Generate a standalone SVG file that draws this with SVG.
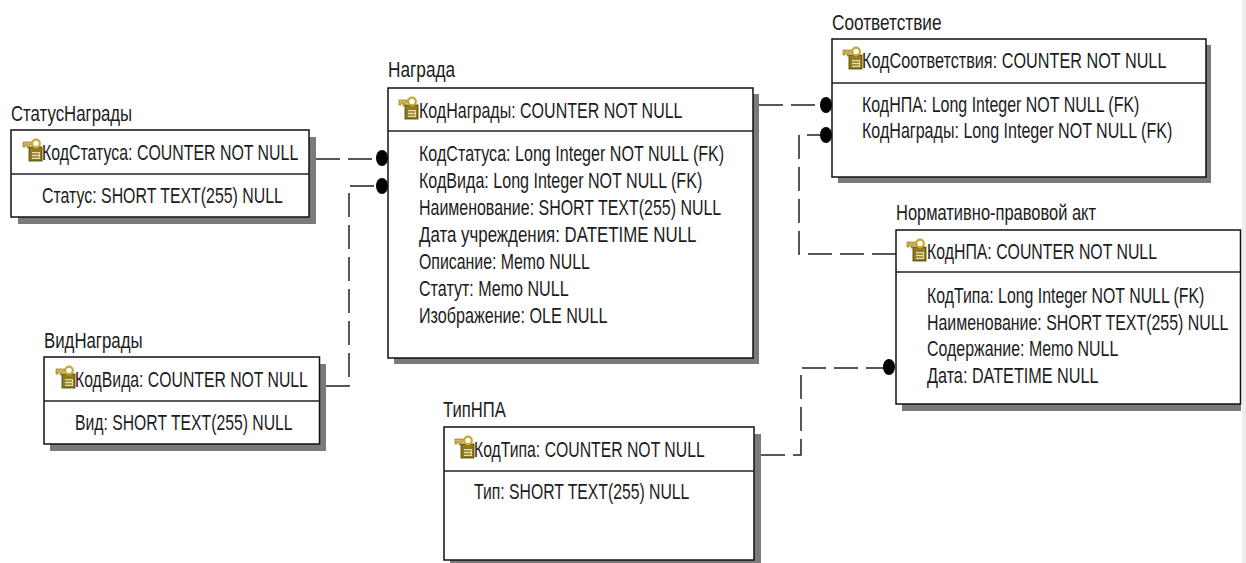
<svg xmlns="http://www.w3.org/2000/svg" width="1246" height="563" viewBox="0 0 1246 563">
<style>
text{font-family:"Liberation Sans",Arial,sans-serif;font-size:22px;fill:#1c1c1c}
.box{fill:#fff;stroke:#111;stroke-width:1.5}
.sh{fill:#7a7a7a}
.div{stroke:#222;stroke-width:1.5}
.c{fill:none;stroke:#222;stroke-width:1.5;stroke-dasharray:24 8}
</style>
<defs>
<g id="key">
<rect x="6" y="8" width="13" height="14" fill="#8f7a1c" stroke="#4a3d0c" stroke-width=".8"/>
<rect x="9" y="13" width="8" height="7" fill="#e8dca0"/>
<path d="M9 15h7M9 18h7" stroke="#5a4c12" stroke-width="1"/>
<path d="M0 3h9v3H6v3H4V6H2v2H0z" fill="#d9b84a" stroke="#7a6418" stroke-width=".6"/>
<circle cx="13" cy="4.500" r="3.800" fill="none" stroke="#c9a832" stroke-width="2.200"/>
</g>
</defs>
<rect width="1246" height="563" fill="#fff"/>
<rect x="1242" y="0" width="4" height="563" fill="#ededed"/>
<g id="connectors">
<path class="c" d="M316 159H382"/>
<path class="c" d="M326 386H349V186H382"/>
<path class="c" d="M759 105H826"/>
<path class="c" d="M896 254H799V135H826"/>
<path class="c" d="M761 455H801V368H889"/>
<ellipse cx="382" cy="158" rx="6" ry="8"/>
<ellipse cx="382" cy="186" rx="6" ry="8"/>
<ellipse cx="826" cy="105" rx="6" ry="8"/>
<ellipse cx="826" cy="135" rx="6" ry="8"/>
<ellipse cx="889" cy="367" rx="6" ry="8"/>
</g>
<g id="status">
<text transform="matrix(.73 0 0 1 11 121)" textLength="166" lengthAdjust="spacingAndGlyphs">СтатусНаграды</text>
<rect class="sh" x="18" y="137" width="298" height="87"/>
<rect class="box" x="11" y="130" width="298" height="87"/>
<line class="div" x1="11" y1="174" x2="309" y2="174"/>
<use href="#key" x="23" y="139"/>
<text transform="matrix(.73 0 0 1 42 160)" textLength="351" lengthAdjust="spacingAndGlyphs">КодСтатуса: COUNTER NOT NULL</text>
<text transform="matrix(.73 0 0 1 42 203)" textLength="330" lengthAdjust="spacingAndGlyphs">Статус: SHORT TEXT(255) NULL</text>
</g>
<g id="vid">
<text transform="matrix(.73 0 0 1 44 348)" textLength="135" lengthAdjust="spacingAndGlyphs">ВидНаграды</text>
<rect class="sh" x="50" y="364" width="276" height="87"/>
<rect class="box" x="44" y="357" width="275.500" height="87"/>
<line class="div" x1="44" y1="401" x2="319.500" y2="401"/>
<use href="#key" x="56" y="366"/>
<text transform="matrix(.73 0 0 1 75 387)" textLength="319" lengthAdjust="spacingAndGlyphs">КодВида: COUNTER NOT NULL</text>
<text transform="matrix(.73 0 0 1 75 430)" textLength="298" lengthAdjust="spacingAndGlyphs">Вид: SHORT TEXT(255) NULL</text>
</g>
<g id="nagrada">
<text transform="matrix(.73 0 0 1 388 77)" textLength="92" lengthAdjust="spacingAndGlyphs">Награда</text>
<rect class="sh" x="394" y="94" width="365" height="270"/>
<rect class="box" x="388" y="88" width="365" height="270"/>
<line class="div" x1="388" y1="131" x2="753" y2="131"/>
<use href="#key" x="399" y="97"/>
<text transform="matrix(.73 0 0 1 419 118)" textLength="361" lengthAdjust="spacingAndGlyphs">КодНаграды: COUNTER NOT NULL</text>
<text transform="matrix(.73 0 0 1 419 161)" textLength="418" lengthAdjust="spacingAndGlyphs">КодСтатуса: Long Integer NOT NULL (FK)</text>
<text transform="matrix(.73 0 0 1 419 188)" textLength="388" lengthAdjust="spacingAndGlyphs">КодВида: Long Integer NOT NULL (FK)</text>
<text transform="matrix(.73 0 0 1 419 215)" textLength="414" lengthAdjust="spacingAndGlyphs">Наименование: SHORT TEXT(255) NULL</text>
<text transform="matrix(.73 0 0 1 419 242)" textLength="380" lengthAdjust="spacingAndGlyphs">Дата учреждения: DATETIME NULL</text>
<text transform="matrix(.73 0 0 1 419 269)" textLength="234" lengthAdjust="spacingAndGlyphs">Описание: Memo NULL</text>
<text transform="matrix(.73 0 0 1 419 296)" textLength="205" lengthAdjust="spacingAndGlyphs">Статут: Memo NULL</text>
<text transform="matrix(.73 0 0 1 419 323)" textLength="258" lengthAdjust="spacingAndGlyphs">Изображение: OLE NULL</text>
</g>
<g id="sootv">
<text transform="matrix(.73 0 0 1 832 30)" textLength="150" lengthAdjust="spacingAndGlyphs">Соответствие</text>
<rect class="sh" x="838" y="45" width="373" height="138"/>
<rect class="box" x="832" y="39" width="374" height="138"/>
<line class="div" x1="832" y1="83" x2="1206" y2="83"/>
<use href="#key" x="843" y="47"/>
<text transform="matrix(.73 0 0 1 862 68)" textLength="417" lengthAdjust="spacingAndGlyphs">КодСоответствия: COUNTER NOT NULL</text>
<text transform="matrix(.73 0 0 1 862 112)" textLength="380" lengthAdjust="spacingAndGlyphs">КодНПА: Long Integer NOT NULL (FK)</text>
<text transform="matrix(.73 0 0 1 862 138)" textLength="425" lengthAdjust="spacingAndGlyphs">КодНаграды: Long Integer NOT NULL (FK)</text>
</g>
<g id="npa">
<text transform="matrix(.73 0 0 1 896 220)" textLength="274" lengthAdjust="spacingAndGlyphs">Нормативно-правовой акт</text>
<rect class="sh" x="902" y="236" width="339" height="175"/>
<rect class="box" x="896" y="230" width="344.500" height="174"/>
<line class="div" x1="896" y1="272" x2="1240.500" y2="272"/>
<use href="#key" x="907" y="239"/>
<text transform="matrix(.73 0 0 1 927 259)" textLength="315" lengthAdjust="spacingAndGlyphs">КодНПА: COUNTER NOT NULL</text>
<text transform="matrix(.73 0 0 1 927 303)" textLength="380" lengthAdjust="spacingAndGlyphs">КодТипа: Long Integer NOT NULL (FK)</text>
<text transform="matrix(.73 0 0 1 927 330)" textLength="413" lengthAdjust="spacingAndGlyphs">Наименование: SHORT TEXT(255) NULL</text>
<text transform="matrix(.73 0 0 1 927 356)" textLength="262" lengthAdjust="spacingAndGlyphs">Содержание: Memo NULL</text>
<text transform="matrix(.73 0 0 1 927 383)" textLength="235" lengthAdjust="spacingAndGlyphs">Дата: DATETIME NULL</text>
</g>
<g id="tip">
<text transform="matrix(.73 0 0 1 443 417)" textLength="86" lengthAdjust="spacingAndGlyphs">ТипНПА</text>
<rect class="sh" x="450" y="434" width="311" height="129"/>
<rect class="box" x="444" y="427" width="310" height="133"/>
<line class="div" x1="444" y1="471" x2="754" y2="471"/>
<use href="#key" x="455" y="436"/>
<text transform="matrix(.73 0 0 1 474 457)" textLength="316" lengthAdjust="spacingAndGlyphs">КодТипа: COUNTER NOT NULL</text>
<text transform="matrix(.73 0 0 1 474 499)" textLength="295" lengthAdjust="spacingAndGlyphs">Тип: SHORT TEXT(255) NULL</text>
</g>
</svg>
